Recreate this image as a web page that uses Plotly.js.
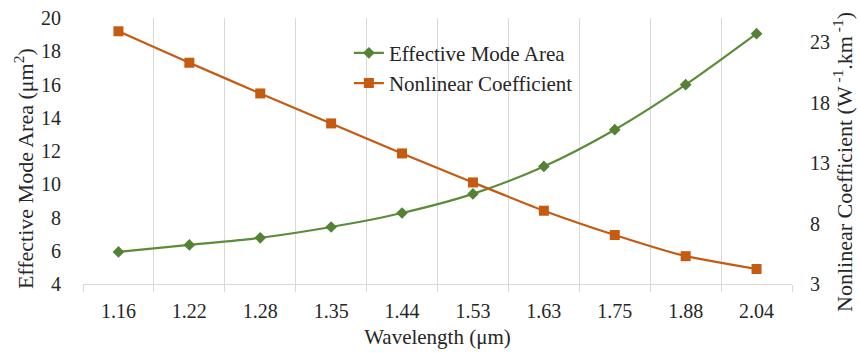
<!DOCTYPE html>
<html>
<head>
<meta charset="utf-8">
<script src="https://cdn.plot.ly/plotly-3.0.1.min.js"></script>
<style>html,body{margin:0;padding:0;background:#fff}#chart{width:860px;height:353px}</style>
</head>
<body>
<div id="chart"></div>
<script>
const wavelengths = ["1.16","1.22","1.28","1.35","1.44","1.53","1.63","1.75","1.88","2.04"];
const modeArea = [5.93, 6.35, 6.78, 7.43, 8.27, 9.42, 11.07, 13.28, 15.99, 19.06];
const nonlinearCoef = [23.9, 21.3, 18.76, 16.28, 13.8, 11.4, 9.06, 7.05, 5.3, 4.24];
const leftTitle = "Effective Mode Area (μm<sup>2</sup>)";
const rightTitle = "Nonlinear Coefficient (W<sup> -1</sup>.km<sup> -1</sup>)";
const xTitle = "Wavelength (μm)";

const FONT = "'Liberation Serif', 'Times New Roman', serif";
const TXT = "#262626";
const traces = [
  {x: wavelengths, y: modeArea, name: "Effective Mode Area", type: "scatter", mode: "lines+markers",
   line: {color: "#5b8c3a", width: 2.2, shape: "spline", smoothing: 0.8},
   marker: {symbol: "diamond", size: 9, color: "#548235"}, yaxis: "y"},
  {x: wavelengths, y: nonlinearCoef, name: "Nonlinear Coefficient", type: "scatter", mode: "lines+markers",
   line: {color: "#c55a11", width: 2.2, shape: "spline", smoothing: 0.5},
   marker: {symbol: "square", size: 10, color: "#c55a11"}, yaxis: "y2"}
];
const layout = {
  width: 860, height: 353,
  margin: {l: 83, r: 68, t: 18, b: 69},
  paper_bgcolor: "#fff", plot_bgcolor: "#fff",
  font: {family: FONT, size: 20, color: TXT},
  showlegend: true,
  legend: {x: 0.375, y: 0.945, xanchor: "left", yanchor: "top", bgcolor: "rgba(255,255,255,0)",
           font: {family: FONT, size: 21, color: TXT}, tracegroupgap: 0, itemwidth: 30},
  xaxis: {type: "category", range: [-0.5, 9.5], autorange: false, tickson: "boundaries",
          showgrid: true, gridcolor: "#d9d9d9", gridwidth: 1,
          ticks: "outside", ticklen: 7, tickcolor: "#d9d9d9", showline: true, linecolor: "#d9d9d9",
          zeroline: false, automargin: false, ticklabelstandoff: 9,
          tickfont: {family: FONT, size: 20, color: TXT},
          title: {text: xTitle, font: {family: FONT, size: 21, color: TXT}, standoff: 8}},
  yaxis: {range: [4, 20], dtick: 2, showgrid: false, zeroline: false, showline: false, ticks: "",
          automargin: false, ticklabelstandoff: 21,
          tickfont: {family: FONT, size: 20, color: TXT}},
  yaxis2: {range: [3, 25], tickvals: [3, 8, 13, 18, 23], overlaying: "y", side: "right", showgrid: false,
           zeroline: false, showline: false, ticks: "", automargin: false, ticklabelstandoff: 17,
           tickfont: {family: FONT, size: 20, color: TXT}},
  annotations: [
    {text: leftTitle, xref: "paper", yref: "paper", x: -0.0832, y: 0.432, textangle: -90,
     showarrow: false, xanchor: "center", yanchor: "middle", font: {family: FONT, size: 22, color: TXT}},
    {text: rightTitle, xref: "paper", yref: "paper", x: 1.072, y: 0.459, textangle: -90,
     showarrow: false, xanchor: "center", yanchor: "middle", font: {family: FONT, size: 22, color: TXT}}
  ]
};
Plotly.newPlot("chart", traces, layout, {displayModeBar: false, staticPlot: true});
</script>
</body>
</html>
